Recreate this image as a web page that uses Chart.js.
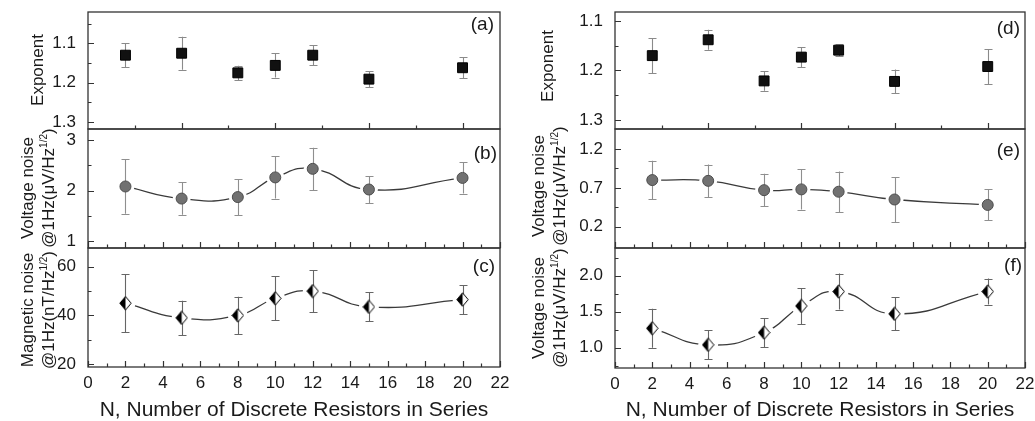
<!DOCTYPE html>
<html><head><meta charset="utf-8">
<script src="https://cdn.jsdelivr.net/npm/chart.js@4.4.1/dist/chart.umd.min.js"></script>
<style>
html,body{margin:0;padding:0;background:#fff;}
#wrap{position:relative;width:1035px;height:421px;overflow:hidden;font-family:'Liberation Sans',Arial,sans-serif;color:#1a1a1a;}
canvas{position:absolute;top:0;}
.yt{position:absolute;transform:translate(-50%,-50%) rotate(-90deg);white-space:nowrap;text-align:center;font-size:17px;line-height:21px;}
.yt sup{font-size:10px;vertical-align:0;position:relative;top:-7px;}
.pl{position:absolute;font-size:19px;transform:translate(-100%,-50%);line-height:1;}
</style></head><body><div id="wrap">
<canvas id="ca" width="515" height="421" style="left:0"></canvas>
<canvas id="cb" width="515" height="421" style="left:0"></canvas>
<canvas id="cc" width="515" height="421" style="left:0"></canvas>
<canvas id="cd" width="520" height="421" style="left:515px"></canvas>
<canvas id="ce" width="520" height="421" style="left:515px"></canvas>
<canvas id="cf" width="520" height="421" style="left:515px"></canvas>

<div class="yt" style="left:37px;top:70px">Exponent</div>
<div class="yt" style="left:39px;top:188px">Voltage noise<br>@1Hz(μV/Hz<sup>1/2</sup>)</div>
<div class="yt" style="left:39px;top:310px">Magnetic noise<br>@1Hz(nT/Hz<sup>1/2</sup>)</div>
<div class="yt" style="left:547px;top:66px">Exponent</div>
<div class="yt" style="left:550px;top:186px">Voltage noise<br>@1Hz(μV/Hz<sup>1/2</sup>)</div>
<div class="yt" style="left:550px;top:308px">Voltage noise<br>@1Hz(μV/Hz<sup>1/2</sup>)</div>

<div class="pl" style="left:494px;top:23px">(a)</div>
<div class="pl" style="left:497px;top:152px">(b)</div>
<div class="pl" style="left:495px;top:265px">(c)</div>
<div class="pl" style="left:1020px;top:27px">(d)</div>
<div class="pl" style="left:1020px;top:149px">(e)</div>
<div class="pl" style="left:1022px;top:264px">(f)</div>
</div>
<script>
// ---------- data ----------
const N = [2, 5, 8, 10, 12, 15, 20];

const exponentA    = [1.130, 1.125, 1.175, 1.156, 1.130, 1.191, 1.162];
const exponentAErr = [0.030, 0.042, 0.018, 0.031, 0.025, 0.020, 0.027];

const voltageB    = [2.08, 1.84, 1.87, 2.26, 2.43, 2.02, 2.25];
const voltageBErr = [0.54, 0.32, 0.36, 0.42, 0.42, 0.27, 0.31];

const magneticC    = [45, 39, 40, 47, 50, 43.5, 46.5];
const magneticCErr = [12, 7, 7.7, 9, 8.7, 6, 6];

const exponentD    = [1.170, 1.138, 1.221, 1.173, 1.159, 1.222, 1.192];
const exponentDErr = [0.035, 0.020, 0.020, 0.020, 0.012, 0.024, 0.035];

const voltageE    = [0.80, 0.79, 0.67, 0.68, 0.65, 0.55, 0.48];
const voltageEErr = [0.25, 0.21, 0.21, 0.26, 0.26, 0.29, 0.20];

const voltageF    = [1.27, 1.04, 1.21, 1.58, 1.78, 1.47, 1.78];
const voltageFErr = [0.27, 0.20, 0.20, 0.25, 0.25, 0.23, 0.18];

const xTickLabels = [0, 2, 4, 6, 8, 10, 12, 14, 16, 18, 20, 22];
const xMinorOdd   = [1, 3, 5, 7, 9, 11, 13, 15, 17, 19, 21];
const xMajorFive  = [5, 10, 15, 20];
const xMinorFive  = [2.5, 7.5, 12.5, 17.5];

const yTicksA = [1.1, 1.2, 1.3];  const yMinorA = [1.05, 1.15, 1.25];
const yTicksB = [1, 2, 3];        const yMinorB = [1.5, 2.5];
const yTicksC = [20, 40, 60];     const yMinorC = [30, 50];
const yTicksD = [1.1, 1.2, 1.3];  const yMinorD = [1.15, 1.25];
const yTicksE = [0.2, 0.7, 1.2];  const yMinorE = [0.45, 0.95];
const yTicksF = [1.0, 1.5, 2.0];  const yMinorF = [0.75, 1.25, 1.75, 2.25];

const xTitle = 'N, Number of Discrete Resistors in Series';

// ---------- helpers ----------
const FONT = "'Liberation Sans', Arial, sans-serif";
const TXT = '#1a1a1a';

function makeDiamond() {
  const w = 13, h = 15;
  const c = document.createElement('canvas');
  c.width = w; c.height = h;
  const g = c.getContext('2d');
  const cx = w / 2, cy = h / 2;
  g.beginPath();
  g.moveTo(cx, 0.8); g.lineTo(w - 0.8, cy); g.lineTo(cx, h - 0.8); g.lineTo(0.8, cy); g.closePath();
  g.fillStyle = '#fff'; g.fill();
  g.beginPath();
  g.moveTo(cx, 0.8); g.lineTo(cx, h - 0.8); g.lineTo(0.8, cy); g.closePath();
  g.fillStyle = '#000'; g.fill();
  g.beginPath();
  g.moveTo(cx, 0.8); g.lineTo(w - 0.8, cy); g.lineTo(cx, h - 0.8); g.lineTo(0.8, cy); g.closePath();
  g.strokeStyle = '#000'; g.lineWidth = 1; g.stroke();
  return c;
}
const diamond = makeDiamond();

const errorBarPlugin = {
  id: 'errbars',
  beforeDatasetDraw(chart, args, opts) {
    if (args.index !== 0) return;
    const xs = chart.scales.x, ys = chart.scales.y, ctx = chart.ctx;
    ctx.save();
    ctx.strokeStyle = opts.color; ctx.lineWidth = 1.1;
    opts.values.forEach((v, i) => {
      const x = Math.round(xs.getPixelForValue(N[i])) + 0.5;
      const y1 = ys.getPixelForValue(v + opts.errors[i]);
      const y2 = ys.getPixelForValue(v - opts.errors[i]);
      ctx.beginPath();
      ctx.moveTo(x, y1); ctx.lineTo(x, y2);
      ctx.moveTo(x - 4, Math.round(y1) + 0.5); ctx.lineTo(x + 4, Math.round(y1) + 0.5);
      ctx.moveTo(x - 4, Math.round(y2) + 0.5); ctx.lineTo(x + 4, Math.round(y2) + 0.5);
      ctx.stroke();
    });
    ctx.restore();
  }
};

const framePlugin = {
  id: 'frame',
  afterDraw(chart, args, opts) {
    const {ctx, chartArea: a} = chart;
    const xs = chart.scales.x, ys = chart.scales.y;
    ctx.save();
    ctx.strokeStyle = '#333'; ctx.lineWidth = 1.3;
    ctx.strokeRect(a.left, a.top, a.right - a.left, a.bottom - a.top);
    ctx.lineWidth = 1.2;
    ctx.beginPath();
    const tx = (v, len) => { const x = Math.round(xs.getPixelForValue(v)) + 0.5; ctx.moveTo(x, a.bottom); ctx.lineTo(x, a.bottom - len); };
    const ty = (v, len) => { const y = Math.round(ys.getPixelForValue(v)) + 0.5; ctx.moveTo(a.left, y); ctx.lineTo(a.left + len, y); };
    opts.xMajor.forEach(v => tx(v, 6));
    opts.xMinor.forEach(v => tx(v, 3.5));
    opts.yMajor.forEach(v => ty(v, 6));
    opts.yMinor.forEach(v => ty(v, 3.5));
    ctx.stroke();
    ctx.restore();
  }
};

function panel(id, c) {
  const pts = N.map((x, i) => ({x: x, y: c.values[i]}));
  const datasets = [{
    data: pts, showLine: false,
    pointStyle: c.marker.style, pointRadius: c.marker.radius,
    backgroundColor: c.marker.fill, borderColor: c.marker.stroke, borderWidth: c.marker.bw,
    pointHoverRadius: c.marker.radius
  }];
  if (c.line) {
    datasets.push({
      data: pts, showLine: false, pointStyle: 'circle', pointRadius: c.halo,
      backgroundColor: '#fff', borderWidth: 0, pointHoverRadius: c.halo
    });
    datasets.push({
      data: pts, showLine: true, pointRadius: 0, borderColor: '#3a3a3a',
      borderWidth: 1.3, tension: 0.5, fill: false
    });
  }
  return new Chart(document.getElementById(id), {
    type: 'scatter',
    data: {datasets},
    plugins: [errorBarPlugin, framePlugin],
    options: {
      responsive: false, animation: false, events: [],
      layout: {padding: {top: c.top, right: c.right, left: 0, bottom: 0}},
      plugins: {
        legend: {display: false}, tooltip: {enabled: false},
        errbars: {values: c.values, errors: c.errors, color: c.errColor},
        frame: {xMajor: c.xMajor, xMinor: c.xMinor, yMajor: c.yTicks, yMinor: c.yMinor}
      },
      scales: {
        x: {
          type: 'linear', min: 0, max: 22,
          afterBuildTicks: s => { s.ticks = xTickLabels.map(v => ({value: v})); },
          ticks: {display: c.showX, autoSkip: false, maxRotation: 0, padding: 6,
                  font: {family: FONT, size: 17}, color: TXT, callback: v => String(v)},
          grid: {display: false, drawTicks: false},
          border: {display: false},
          title: {display: c.showX, text: xTitle, color: TXT,
                  font: {family: FONT, size: 21}, padding: {top: 0, bottom: -2}},
          afterFit: s => { s.height = 421 - c.bottom; s.paddingLeft = 0; s.paddingRight = 0; }
        },
        y: {
          type: 'linear', min: c.yMin, max: c.yMax, reverse: !!c.reverse,
          afterBuildTicks: s => { s.ticks = c.yTicks.map(v => ({value: v})); },
          ticks: {padding: 12, font: {family: FONT, size: 17}, color: TXT,
                  callback: v => v.toFixed(c.dec)},
          grid: {display: false, drawTicks: false},
          border: {display: false},
          afterFit: s => { s.width = c.yWidth; s.paddingTop = 0; s.paddingBottom = 0; }
        }
      }
    }
  });
}

const squareM  = {style: 'rect', radius: 7, fill: '#111', stroke: '#000', bw: 1};
const circleM  = {style: 'circle', radius: 5.5, fill: '#717171', stroke: '#4d4d4d', bw: 1};
const diamondM = {style: diamond, radius: 7, fill: '#000', stroke: '#000', bw: 0};

const L = {yWidth: 88, right: 15};
const R = {yWidth: 100, right: 10};

panel('ca', Object.assign({}, L, {values: exponentA, errors: exponentAErr, yMin: 1.02, yMax: 1.318, reverse: true,
  yTicks: yTicksA, yMinor: yMinorA, dec: 1, xMajor: xMajorFive, xMinor: xMinorFive, showX: false,
  marker: squareM, line: false, errColor: '#8a8a8a', top: 12, bottom: 129}));
panel('cb', Object.assign({}, L, {values: voltageB, errors: voltageBErr, yMin: 0.86, yMax: 3.22,
  yTicks: yTicksB, yMinor: yMinorB, dec: 0, xMajor: xTickLabels, xMinor: xMinorOdd, showX: false,
  marker: circleM, line: true, halo: 9, errColor: '#8f8f8f', top: 129, bottom: 248}));
panel('cc', Object.assign({}, L, {values: magneticC, errors: magneticCErr, yMin: 18.8, yMax: 67.7,
  yTicks: yTicksC, yMinor: yMinorC, dec: 0, xMajor: xTickLabels, xMinor: xMinorOdd, showX: true,
  marker: diamondM, line: true, halo: 10, errColor: '#666', top: 248, bottom: 367}));
panel('cd', Object.assign({}, R, {values: exponentD, errors: exponentDErr, yMin: 1.082, yMax: 1.318, reverse: true,
  yTicks: yTicksD, yMinor: yMinorD, dec: 1, xMajor: xMajorFive, xMinor: xMinorFive, showX: false,
  marker: squareM, line: false, errColor: '#8a8a8a', top: 12, bottom: 129}));
panel('ce', Object.assign({}, R, {values: voltageE, errors: voltageEErr, yMin: -0.074, yMax: 1.457,
  yTicks: yTicksE, yMinor: yMinorE, dec: 1, xMajor: xTickLabels, xMinor: xMinorOdd, showX: false,
  marker: circleM, line: true, halo: 9, errColor: '#8f8f8f', top: 129, bottom: 248}));
panel('cf', Object.assign({}, R, {values: voltageF, errors: voltageFErr, yMin: 0.718, yMax: 2.385,
  yTicks: yTicksF, yMinor: yMinorF, dec: 1, xMajor: xTickLabels, xMinor: xMinorOdd, showX: true,
  marker: diamondM, line: true, halo: 10, errColor: '#666', top: 248, bottom: 368}));
</script>
</body></html>
